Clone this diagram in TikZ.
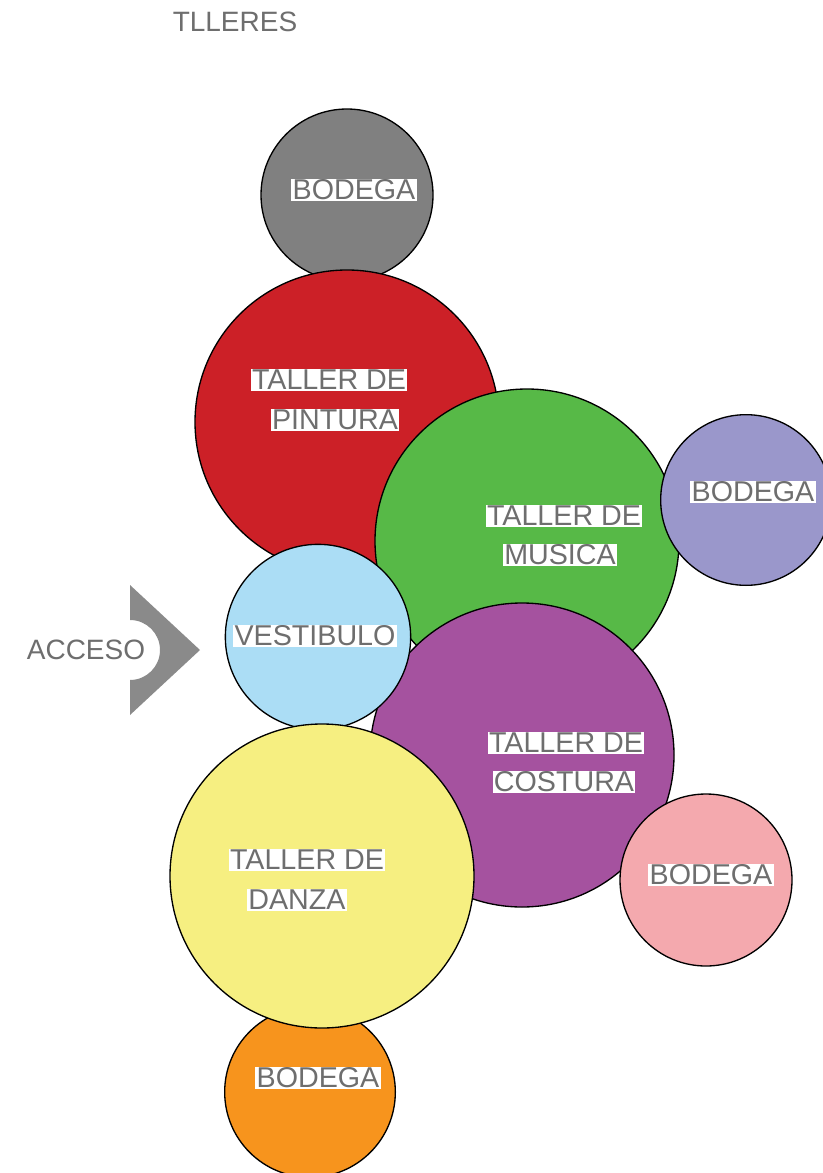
\documentclass[tikz,border=0pt]{standalone}
\usepackage{fontspec}
\setmainfont{Liberation Sans}
\usetikzlibrary{positioning}
\definecolor{bodegagray}{HTML}{808080}
\definecolor{pinturared}{HTML}{CC2027}
\definecolor{musicagreen}{HTML}{57B947}
\definecolor{bodegalila}{HTML}{9A97CB}
\definecolor{costurapurple}{HTML}{A5529F}
\definecolor{vestibuloblue}{HTML}{ABDDF5}
\definecolor{bodegapink}{HTML}{F4A9AE}
\definecolor{danzayellow}{HTML}{F6EF81}
\definecolor{bodegaorange}{HTML}{F7941D}
\definecolor{tagtext}{HTML}{6E6E6E}
\definecolor{accesogray}{HTML}{8A8A8A}
\tikzset{
  room/.style={
    circle,
    draw=black,
    line width=1pt,
    inner sep=0pt,
    minimum size=#1
  },
  tag/.style={
    fill=white,
    text=tagtext,
    inner sep=1pt,
    font=\fontsize{21.5}{25}\selectfont
  },
  plain/.style={
    text=tagtext,
    inner sep=0pt,
    font=\fontsize{21}{25}\selectfont
  }
}

\begin{document}
\begin{tikzpicture}[x=0.75pt, y=-0.75pt]
    \useasboundingbox (0,0) rectangle (823,1173);

    \node [plain] (titulo) at (235,22) {TLLERES};

    % rooms, back to front
    \node [room=129pt, fill=bodegagray] (bodega1) at (347,195) {};
    \node [room=228pt, fill=pinturared] (pintura) at (347,422) {};
    \node [room=228pt, fill=musicagreen] (musica) at (527,541) {};
    \node [room=128pt, fill=bodegalila] (bodega2) at (746,500) {};
    \node [room=228pt, fill=costurapurple] (costura) at (522,755) {};
    \node [room=139pt, fill=vestibuloblue] (vestibulo) at (318,637) {};
    \node [room=128pt, fill=bodegaorange] (bodega4) at (310,1092) {};
    \node [room=228pt, fill=danzayellow] (danza) at (322,876) {};
    \node [room=129pt, fill=bodegapink] (bodega3) at (706,880) {};

    \node [tag] (tbodega1) at (354,190) {BODEGA};
    \node [tag] (tpintura1) at (329,380) {TALLER DE};
    \node [tag] (tpintura2) at (335,420) {PINTURA};
    \node [tag] (tmusica1) at (564,516) {TALLER DE};
    \node [tag] (tmusica2) at (560,555) {MUSICA};
    \node [tag] (tbodega2) at (753,492) {BODEGA};
    \node [tag] (tvestibulo) at (315,636) {VESTIBULO};
    \node [tag] (tcostura1) at (566,743) {TALLER DE};
    \node [tag] (tcostura2) at (564,782) {COSTURA};
    \node [tag] (tdanza1) at (307,860) {TALLER DE};
    \node [tag] (tdanza2) at (297,900) {DANZA};
    \node [tag] (tbodega3) at (711,875) {BODEGA};
    \node [tag] (tbodega4) at (318,1078) {BODEGA};

    % entrance
    \node [plain] (acceso) at (86,650) {ACCESO};
    \coordinate (flecha) at (130,650);
    \fill [accesogray] (130,585) -- (200,650) -- (130,715) -- (130,680)
      arc [start angle=90, end angle=-90, radius=30] -- cycle;
  \end{tikzpicture}
\end{document}
